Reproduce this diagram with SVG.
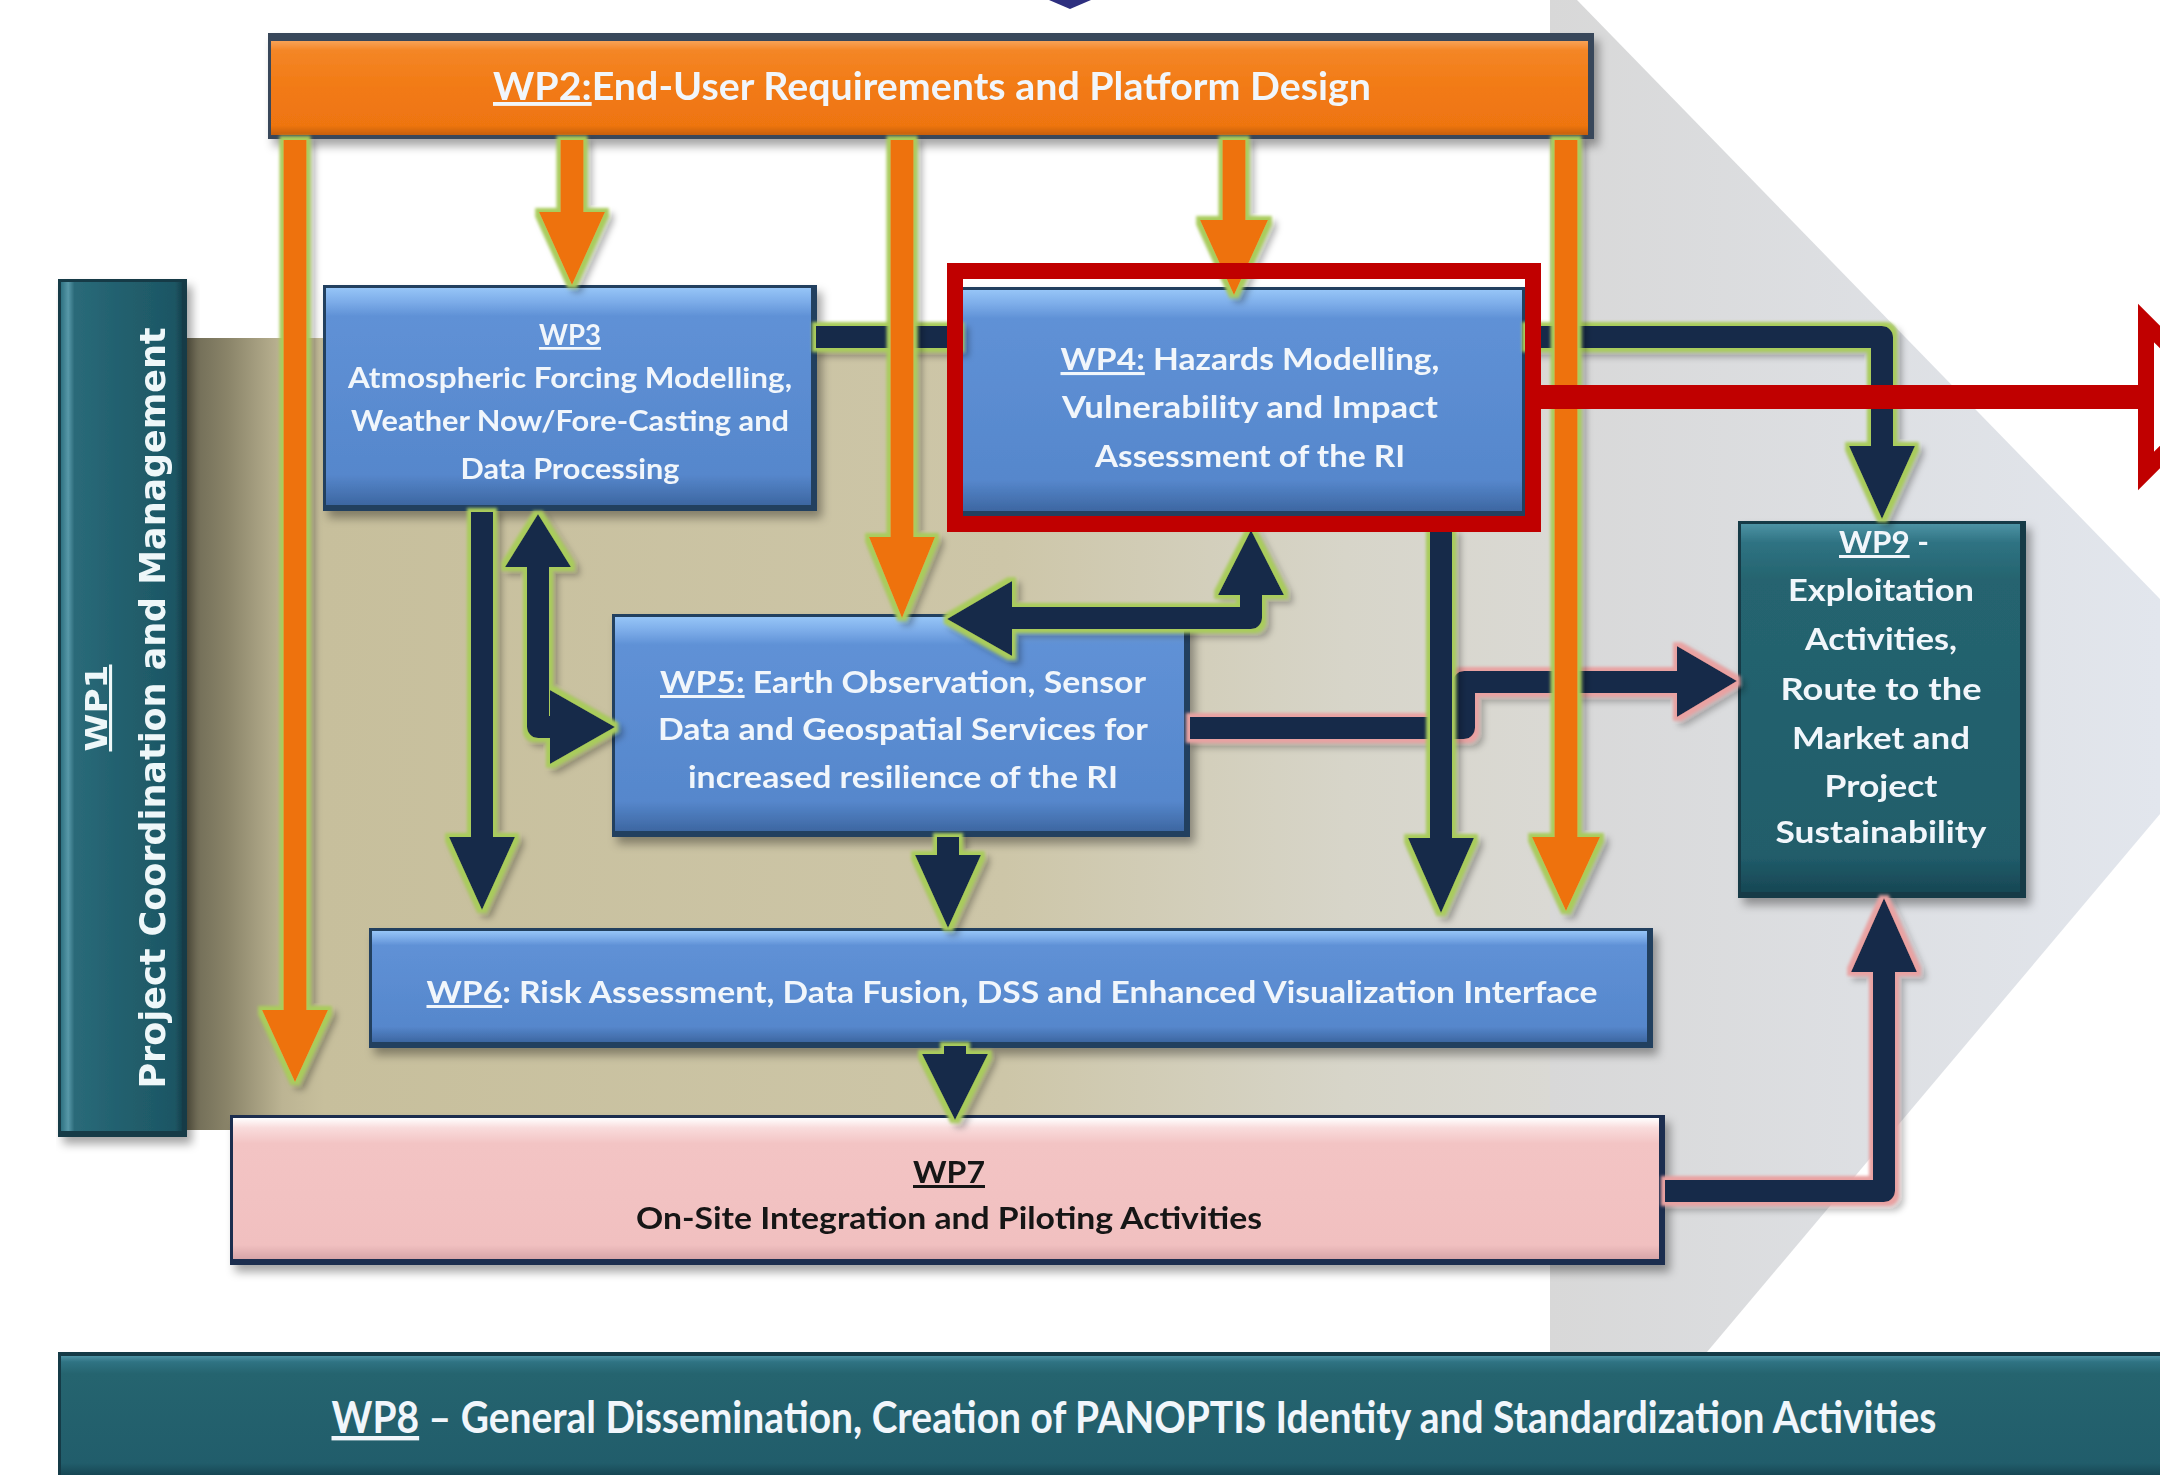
<svg xmlns="http://www.w3.org/2000/svg" width="2160" height="1475" viewBox="0 0 2160 1475">
  <defs>
    <style>
      .t { font-family: Lato, "Open Sans", "Liberation Sans", sans-serif; font-weight: 700; text-anchor: middle; fill: #f1f6fb; }
      .dark { fill: #161616; }
      .v { font-family: "DejaVu Sans", Verdana, sans-serif; font-weight: 700; text-anchor: middle; fill: #eef7f9; }
      .u { text-decoration: underline; }
      .edge-blue { fill: #24405f; }
      .face-blue { fill: url(#gBlue); }
      .edge-teal { fill: #153b47; }
      .face-teal { fill: url(#gTeal); }
      .navy { fill: #132a48; }
      .navy-l { fill: none; stroke: #132a48; stroke-width: 22; stroke-linejoin: round; }
      .org { fill: #ee720f; }
      .org-l { fill: none; stroke: #ee720f; stroke-width: 23; }
      .red-l { fill: none; stroke: #c00000; }
    </style>
    <linearGradient id="gBlue" x1="0" y1="0" x2="0" y2="1">
      <stop offset="0" stop-color="#96c5f7"/>
      <stop offset="0.06" stop-color="#7eaeea"/>
      <stop offset="0.13" stop-color="#5f91d6"/>
      <stop offset="0.86" stop-color="#5687cc"/>
      <stop offset="1" stop-color="#3d67a2"/>
    </linearGradient>
    <linearGradient id="gTeal" x1="0" y1="0" x2="0" y2="1">
      <stop offset="0" stop-color="#4d93a4"/>
      <stop offset="0.05" stop-color="#2f7383"/>
      <stop offset="0.15" stop-color="#25646f"/>
      <stop offset="0.9" stop-color="#215d6b"/>
      <stop offset="1" stop-color="#174754"/>
    </linearGradient>
    <linearGradient id="gTealH" x1="0" y1="0" x2="1" y2="0">
      <stop offset="0" stop-color="#2f7282"/>
      <stop offset="0.06" stop-color="#5898a8"/>
      <stop offset="0.11" stop-color="#2a6a79"/>
      <stop offset="0.5" stop-color="#22606e"/>
      <stop offset="0.94" stop-color="#1d5664"/>
      <stop offset="1" stop-color="#16424e"/>
    </linearGradient>
    <linearGradient id="gPink" x1="0" y1="0" x2="0" y2="1">
      <stop offset="0" stop-color="#ffffff"/>
      <stop offset="0.07" stop-color="#f9dcdc"/>
      <stop offset="0.18" stop-color="#f3c4c4"/>
      <stop offset="0.9" stop-color="#f1c0c0"/>
      <stop offset="1" stop-color="#d7a5a8"/>
    </linearGradient>
    <linearGradient id="gOrange" x1="0" y1="0" x2="0" y2="1">
      <stop offset="0" stop-color="#f7a256"/>
      <stop offset="0.1" stop-color="#f48626"/>
      <stop offset="0.5" stop-color="#f27a14"/>
      <stop offset="0.9" stop-color="#ee7511"/>
      <stop offset="1" stop-color="#c65f0c"/>
    </linearGradient>
    <linearGradient id="gTan" x1="187" y1="0" x2="1550" y2="0" gradientUnits="userSpaceOnUse">
      <stop offset="0" stop-color="#6c6853"/>
      <stop offset="0.03" stop-color="#8a8469"/>
      <stop offset="0.07" stop-color="#bcb493"/>
      <stop offset="0.1" stop-color="#c7bf9c"/>
      <stop offset="0.6" stop-color="#cdc6a8"/>
      <stop offset="0.85" stop-color="#d7d5c9"/>
      <stop offset="1" stop-color="#dad9d4"/>
    </linearGradient>
    <linearGradient id="gGrey" x1="1550" y1="0" x2="2160" y2="0" gradientUnits="userSpaceOnUse">
      <stop offset="0" stop-color="#d8d8d8"/>
      <stop offset="1" stop-color="#e2e6ed"/>
    </linearGradient>
    <filter id="fShadow" x="-5%" y="-10%" width="115%" height="130%">
      <feGaussianBlur in="SourceAlpha" stdDeviation="5"/>
      <feOffset dx="5" dy="7" result="o"/>
      <feFlood flood-color="#000" flood-opacity="0.35"/>
      <feComposite in2="o" operator="in" result="s"/>
      <feMerge><feMergeNode in="s"/><feMergeNode in="SourceGraphic"/></feMerge>
    </filter>
    <filter id="fGlowG" filterUnits="userSpaceOnUse" x="0" y="0" width="2160" height="1475">
      <feMorphology in="SourceAlpha" operator="dilate" radius="4" result="dil"/>
      <feGaussianBlur in="dil" stdDeviation="1.5" result="dilB"/>
      <feFlood flood-color="#a9cc5c"/>
      <feComposite in2="dilB" operator="in" result="glow"/>
      <feOffset in="dil" dx="5" dy="5" result="so"/>
      <feGaussianBlur in="so" stdDeviation="3" result="sb"/>
      <feFlood flood-color="#000" flood-opacity="0.28"/>
      <feComposite in2="sb" operator="in" result="shadow"/>
      <feMerge><feMergeNode in="shadow"/><feMergeNode in="glow"/><feMergeNode in="SourceGraphic"/></feMerge>
    </filter>
    <filter id="fGlowP" filterUnits="userSpaceOnUse" x="0" y="0" width="2160" height="1475">
      <feMorphology in="SourceAlpha" operator="dilate" radius="4" result="dil"/>
      <feGaussianBlur in="dil" stdDeviation="1.8" result="dilB"/>
      <feFlood flood-color="#e9a2a2"/>
      <feComposite in2="dilB" operator="in" result="glow"/>
      <feOffset in="dil" dx="5" dy="5" result="so"/>
      <feGaussianBlur in="so" stdDeviation="3" result="sb"/>
      <feFlood flood-color="#000" flood-opacity="0.25"/>
      <feComposite in2="sb" operator="in" result="shadow"/>
      <feMerge><feMergeNode in="shadow"/><feMergeNode in="glow"/><feMergeNode in="SourceGraphic"/></feMerge>
    </filter>
  </defs>

  <!-- backdrop -->
  <rect x="0" y="0" width="2160" height="1475" fill="#ffffff"/>
  <polygon points="1550,0 1577,0 2160,599 2160,814 1707,1352 1550,1352" fill="url(#gGrey)"/>
  <rect x="187" y="338" width="1363" height="792" fill="url(#gTan)"/>
  <polygon points="1049,0 1091,0 1070,9" fill="#2e2f7f"/>

  <!-- WP1 -->
  <g id="wp1" filter="url(#fShadow)">
    <rect x="58" y="279" width="129" height="858" class="edge-teal"/>
    <rect x="61" y="282" width="121" height="849" fill="url(#gTealH)"/>
    <text class="v" transform="translate(165,708) rotate(-90)"><tspan class="u" x="0" y="-58" font-size="31" textLength="87" lengthAdjust="spacingAndGlyphs">WP1</tspan><tspan x="0" y="0" font-size="36" textLength="761" lengthAdjust="spacingAndGlyphs">Project Coordination and Management</tspan></text>
  </g>

  <!-- WP2 -->
  <g id="wp2" filter="url(#fShadow)">
    <rect x="268" y="33" width="1326" height="106" fill="#38475a"/>
    <rect x="271" y="41" width="1317" height="94" fill="url(#gOrange)"/>
    <text class="t" x="932" y="100" font-size="39" textLength="878" lengthAdjust="spacingAndGlyphs"><tspan class="u">WP2:</tspan>End-User Requirements and Platform Design</text>
  </g>

  <!-- WP3 -->
  <g id="wp3" filter="url(#fShadow)">
    <rect x="323" y="285" width="494" height="226" class="edge-blue"/>
    <rect x="326" y="288" width="485" height="217" class="face-blue"/>
    <text class="t" x="570" y="345" font-size="28" textLength="62" lengthAdjust="spacingAndGlyphs"><tspan class="u">WP3</tspan></text>
    <text class="t" x="570" y="388" font-size="28" textLength="444" lengthAdjust="spacingAndGlyphs">Atmospheric Forcing Modelling,</text>
    <text class="t" x="570" y="431" font-size="28" textLength="438" lengthAdjust="spacingAndGlyphs">Weather Now/Fore-Casting and</text>
    <text class="t" x="570" y="479" font-size="28" textLength="219" lengthAdjust="spacingAndGlyphs">Data Processing</text>
  </g>

  <!-- WP4 -->
  <g id="wp4" filter="url(#fShadow)">
    <rect x="958" y="287" width="570" height="230" class="edge-blue"/>
    <rect x="961" y="290" width="561" height="221" class="face-blue"/>
    <text class="t" x="1250" y="370" font-size="31" textLength="379" lengthAdjust="spacingAndGlyphs"><tspan class="u">WP4:</tspan> Hazards Modelling,</text>
    <text class="t" x="1250" y="418" font-size="31" textLength="376" lengthAdjust="spacingAndGlyphs">Vulnerability and Impact</text>
    <text class="t" x="1250" y="467" font-size="31" textLength="310" lengthAdjust="spacingAndGlyphs">Assessment of the RI</text>
  </g>

  <!-- WP5 -->
  <g id="wp5" filter="url(#fShadow)">
    <rect x="612" y="614" width="578" height="223" class="edge-blue"/>
    <rect x="615" y="617" width="569" height="214" class="face-blue"/>
    <text class="t" x="903" y="693" font-size="30" textLength="486" lengthAdjust="spacingAndGlyphs"><tspan class="u">WP5:</tspan> Earth Observation, Sensor</text>
    <text class="t" x="903" y="740" font-size="30" textLength="490" lengthAdjust="spacingAndGlyphs">Data and Geospatial Services for</text>
    <text class="t" x="903" y="788" font-size="30" textLength="430" lengthAdjust="spacingAndGlyphs">increased resilience of the RI</text>
  </g>

  <!-- WP6 -->
  <g id="wp6" filter="url(#fShadow)">
    <rect x="369" y="928" width="1284" height="120" class="edge-blue"/>
    <rect x="372" y="931" width="1275" height="111" class="face-blue"/>
    <text class="t" x="1012" y="1003" font-size="30" textLength="1171" lengthAdjust="spacingAndGlyphs"><tspan class="u">WP6</tspan>: Risk Assessment, Data Fusion, DSS and Enhanced Visualization Interface</text>
  </g>

  <!-- WP7 -->
  <g id="wp7" filter="url(#fShadow)">
    <rect x="230" y="1115" width="1435" height="150" fill="#1c2f4f"/>
    <rect x="233" y="1118" width="1426" height="141" fill="url(#gPink)"/>
    <text class="t dark" x="949" y="1183" font-size="30" textLength="72" lengthAdjust="spacingAndGlyphs"><tspan class="u">WP7</tspan></text>
    <text class="t dark" x="949" y="1229" font-size="30" textLength="626" lengthAdjust="spacingAndGlyphs">On-Site Integration and Piloting Activities</text>
  </g>

  <!-- WP9 -->
  <g id="wp9" filter="url(#fShadow)">
    <rect x="1738" y="521" width="288" height="377" class="edge-teal"/>
    <rect x="1741" y="524" width="279" height="368" class="face-teal"/>
    <text class="t" x="1884" y="553" font-size="30" textLength="90" lengthAdjust="spacingAndGlyphs"><tspan class="u">WP9</tspan> -</text>
    <text class="t" x="1881" y="601" font-size="30" textLength="186" lengthAdjust="spacingAndGlyphs">Exploitation</text>
    <text class="t" x="1881" y="650" font-size="30" textLength="152" lengthAdjust="spacingAndGlyphs">Activities,</text>
    <text class="t" x="1881" y="700" font-size="30" textLength="201" lengthAdjust="spacingAndGlyphs">Route to the</text>
    <text class="t" x="1881" y="749" font-size="30" textLength="178" lengthAdjust="spacingAndGlyphs">Market and</text>
    <text class="t" x="1881" y="797" font-size="30" textLength="113" lengthAdjust="spacingAndGlyphs">Project</text>
    <text class="t" x="1881" y="843" font-size="30" textLength="211" lengthAdjust="spacingAndGlyphs">Sustainability</text>
  </g>

  <!-- WP8 -->
  <g id="wp8">
    <rect x="58" y="1352" width="2102" height="123" class="edge-teal"/>
    <rect x="61" y="1356" width="2099" height="119" class="face-teal"/>
    <text class="t" x="1134" y="1433" font-size="44" textLength="1605" lengthAdjust="spacingAndGlyphs"><tspan class="u">WP8</tspan> – General Dissemination, Creation of PANOPTIS Identity and Standardization Activities</text>
  </g>

  <!-- connectors -->
  <g id="connectors">
    <!-- WP5 -> WP9 -->
    <g filter="url(#fGlowP)">
      <path class="navy-l" d="M1190,728 H1464 V682 H1680"/>
      <polygon class="navy" points="1677,646 1677,717 1737,681"/>
    </g>
    <!-- WP7 -> WP9 -->
    <g filter="url(#fGlowP)">
      <path class="navy-l" d="M1665,1191 H1884 V970"/>
      <polygon class="navy" points="1851,972 1917,972 1884,898"/>
    </g>
    <!-- WP3 - WP4 -> WP9 -->
    <g filter="url(#fGlowG)">
      <path class="navy-l" d="M816,337 H960 M1526,337 H1882 V449"/>
      <polygon class="navy" points="1849,446 1915,446 1882,519"/>
    </g>
    <!-- WP3 -> WP6 -->
    <g filter="url(#fGlowG)">
      <path class="navy-l" d="M482,512 V840"/>
      <polygon class="navy" points="449,837 515,837 482,910"/>
    </g>
    <!-- WP3 <-> WP5 -->
    <g filter="url(#fGlowG)">
      <path class="navy-l" d="M538,565 V727 H556"/>
      <polygon class="navy" points="505,567 571,567 538,514"/>
      <polygon class="navy" points="550,690 550,764 615,727"/>
    </g>
    <!-- WP4 <-> WP5 -->
    <g filter="url(#fGlowG)">
      <path class="navy-l" d="M1010,618 H1251 V593"/>
      <polygon class="navy" points="1012,581 1012,656 947,619"/>
      <polygon class="navy" points="1218,595 1284,595 1251,530"/>
    </g>
    <!-- WP4 -> WP6 -->
    <g filter="url(#fGlowG)">
      <path class="navy-l" d="M1441,532 V840"/>
      <polygon class="navy" points="1408,838 1474,838 1441,913"/>
    </g>
    <!-- WP5 -> WP6 -->
    <g filter="url(#fGlowG)">
      <path class="navy-l" d="M948,837 V858"/>
      <polygon class="navy" points="915,855 981,855 948,928"/>
    </g>
    <!-- WP6 -> WP7 -->
    <g filter="url(#fGlowG)">
      <path class="navy-l" d="M955,1046 V1058"/>
      <polygon class="navy" points="922,1054 988,1054 955,1120"/>
    </g>
    <!-- WP2 outputs -->
    <g filter="url(#fGlowG)">
      <path class="org-l" d="M295,140 V1013"/>
      <polygon class="org" points="262,1010 328,1010 295,1082"/>
    </g>
    <g filter="url(#fGlowG)">
      <path class="org-l" d="M572,140 V215"/>
      <polygon class="org" points="539,212 605,212 572,285"/>
    </g>
    <g filter="url(#fGlowG)">
      <path class="org-l" d="M902,140 V540"/>
      <polygon class="org" points="869,537 935,537 902,618"/>
    </g>
    <g filter="url(#fGlowG)">
      <path class="org-l" d="M1234,140 V223"/>
      <polygon class="org" points="1200,220 1268,220 1234,295"/>
    </g>
    <g filter="url(#fGlowG)">
      <path class="org-l" d="M1566,140 V840"/>
      <polygon class="org" points="1532,837 1600,837 1566,911"/>
    </g>
  </g>

  <!-- highlight frame on WP4 with pointer -->
  <g id="highlight">
    <rect class="red-l" x="955" y="271" width="578" height="253" stroke-width="16"/>
    <path class="red-l" d="M1541,397 H2146" stroke-width="24"/>
    <polygon points="2146,323 2146,471 2220,397" fill="#ffffff" stroke="#c00000" stroke-width="16"/>
  </g>
</svg>
